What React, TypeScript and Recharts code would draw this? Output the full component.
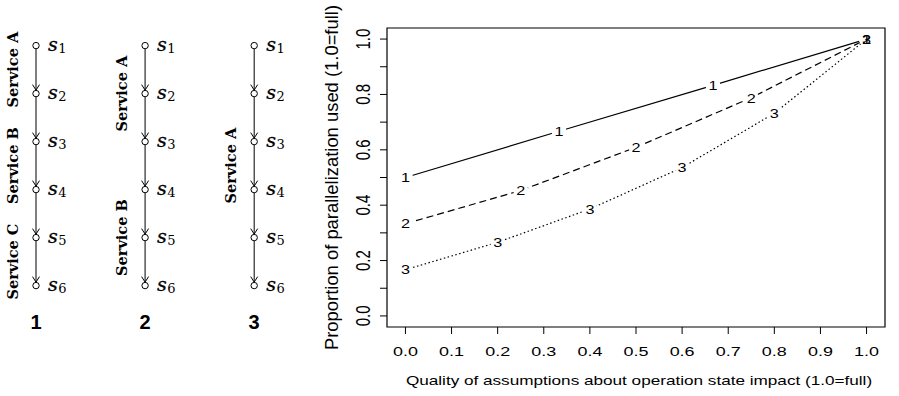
import React from "react"
import { LineChart, Line, XAxis, YAxis, ReferenceArea, ScatterChart, Scatter } from "recharts"

// left: service chains
const chains = [1, 2, 3]
const stateIds = [1, 2, 3, 4, 5, 6]
const services = [
  { chain: 1, name: "Service A", from: 1, to: 2 },
  { chain: 1, name: "Service B", from: 3, to: 4 },
  { chain: 1, name: "Service C", from: 5, to: 6 },
  { chain: 2, name: "Service A", from: 1, to: 3 },
  { chain: 2, name: "Service B", from: 4, to: 6 },
  { chain: 3, name: "Service A", from: 1, to: 6 },
]

// right: parallelization vs. assumption quality
const quality1 = [0, 0.333, 0.667, 1]
const parallel1 = [0.5, 0.667, 0.833, 1]
const quality2 = [0, 0.25, 0.5, 0.75, 1]
const parallel2 = [0.333, 0.453, 0.609, 0.788, 1]
const quality3 = [0, 0.2, 0.4, 0.6, 0.8, 1]
const parallel3 = [0.167, 0.266, 0.386, 0.536, 0.732, 1]
const xTicks = [0, 0.1, 0.2, 0.3, 0.4, 0.5, 0.6, 0.7, 0.8, 0.9, 1]
const yTicks = [0, 0.1, 0.2, 0.3, 0.4, 0.5, 0.6, 0.7, 0.8, 0.9, 1]
const yLabelled = [0, 0.2, 0.4, 0.6, 0.8, 1]

const SANS = "'Liberation Sans', Arial, sans-serif"
const SERIF = "'DejaVu Serif', serif"

function SText({ x, y, size, sx = 1, sy = 1, rotate = 0, children, ...rest }: any) {
  return (
    <text
      transform={`translate(${x},${y}) scale(${sx},${sy}) rotate(${rotate})`}
      textAnchor="middle"
      dy={size * 0.35}
      fontSize={size}
      fontFamily={SANS}
      fill="#000"
      {...rest}
    >
      {children}
    </text>
  )
}

function NodeShape(props: any) {
  const { cx, cy, payload } = props
  return (
    <g>
      {payload.s > 1 && (
        <polyline
          points={`${cx - 3.5},${cy - 9} ${cx},${cy - 3.5} ${cx + 3.5},${cy - 9}`}
          fill="none"
          stroke="#000"
          strokeWidth={1}
        />
      )}
      <circle cx={cx} cy={cy} r={3.2} fill="#fff" stroke="#000" strokeWidth={1} />
      <text x={cx + 12} y={cy + 5} fontFamily={SERIF} fill="#000" stroke="#000" strokeWidth={0.3}>
        <tspan fontSize={19} fontStyle="italic">s</tspan>
        <tspan fontSize={13} dy={2} dx={0.5} strokeWidth={0}>{payload.s}</tspan>
      </text>
    </g>
  )
}

function ServiceShape(props: any) {
  const { cx, cy, payload } = props
  return (
    <SText x={cx - 23} y={cy} size={14.5} rotate={-90} fontFamily={SERIF} fontWeight="bold">
      {payload.name}
    </SText>
  )
}

function ChainTick(props: any) {
  const { x, y, payload } = props
  return (
    <SText x={x} y={y + 21.7} size={20} fontWeight="bold">
      {payload.value}
    </SText>
  )
}

function Chains() {
  const serviceData = services.map((s) => ({ x: s.chain, y: (s.from + s.to) / 2, name: s.name }))
  return (
    <ScatterChart width={300} height={396} margin={{ top: 0, right: 0, bottom: 0, left: 0 }}>
      <XAxis
        type="number"
        dataKey="x"
        domain={[0.67, 3.42]}
        ticks={chains}
        allowDataOverflow
        height={96}
        tickSize={0}
        tickMargin={0}
        axisLine={false}
        tickLine={false}
        tick={<ChainTick />}
      />
      <YAxis type="number" dataKey="y" domain={[0.05, 6.3]} reversed hide allowDataOverflow />
      {chains.map((c) => (
        <Scatter
          key={c}
          data={stateIds.map((s) => ({ x: c, y: s, s }))}
          line={{ stroke: "#000", strokeWidth: 1 }}
          lineType="joint"
          shape={<NodeShape />}
          isAnimationActive={false}
        />
      ))}
      <Scatter data={serviceData} shape={<ServiceShape />} isAnimationActive={false} />
    </ScatterChart>
  )
}

function XTick(props: any) {
  const { x, y, payload } = props
  return (
    <SText x={x} y={y + 15} size={13.5} sx={1.33}>
      {payload.value.toFixed(1)}
    </SText>
  )
}

function YTick(props: any) {
  const { x, y, payload } = props
  if (!yLabelled.includes(payload.value)) return <g />
  return (
    <SText x={x - 15} y={y} size={15} sx={1.3} rotate={-90}>
      {payload.value.toFixed(1)}
    </SText>
  )
}

const makeSeries = (xs: number[], ys: number[]) => xs.map((x, i) => ({ x, y: ys[i] }))

function Curves() {
  const series = [
    { data: makeSeries(quality1, parallel1), dash: undefined, label: "1" },
    { data: makeSeries(quality2, parallel2), dash: "7 4", label: "2" },
    { data: makeSeries(quality3, parallel3), dash: "1.5 2.5", label: "3" },
  ]
  return (
    <LineChart width={599} height={396} margin={{ top: 28, right: 14, bottom: 0, left: 0 }}>
      <XAxis
        type="number"
        dataKey="x"
        domain={[-0.04, 1.04]}
        ticks={xTicks}
        allowDataOverflow
        height={69}
        tickSize={7}
        axisLine={false}
        tickLine={{ stroke: "#000" }}
        tick={<XTick />}
        label={{
          content: (p: any) => (
            <SText x={p.viewBox.x + p.viewBox.width / 2 + 3} y={p.viewBox.y + 53.5} size={13.5} sx={1.27}>
              Quality of assumptions about operation state impact (1.0=full)
            </SText>
          ),
        }}
      />
      <YAxis
        type="number"
        domain={[-0.04, 1.04]}
        ticks={yTicks}
        allowDataOverflow
        width={87}
        tickSize={7}
        axisLine={false}
        tickLine={{ stroke: "#000" }}
        tick={<YTick />}
        label={{
          content: (p: any) => (
            <SText x={32} y={p.viewBox.y + p.viewBox.height / 2} size={18.4} rotate={-90}>
              Proportion of parallelization used (1.0=full)
            </SText>
          ),
        }}
      />
      <ReferenceArea x1={-0.04} x2={1.04} y1={-0.04} y2={1.04} fill="none" stroke="#000" strokeWidth={1.2} ifOverflow="visible" />
      {series.map((s) => (
        <Line
          key={"l" + s.label}
          data={s.data}
          dataKey="y"
          stroke="#000"
          strokeWidth={1.2}
          strokeDasharray={s.dash}
          dot={(p: any) => <circle key={p.index} cx={p.cx} cy={p.cy} r={7.5} fill="#fff" />}
          activeDot={false}
          isAnimationActive={false}
        />
      ))}
      {series.map((s) => (
        <Line
          key={"t" + s.label}
          data={s.data}
          dataKey="y"
          stroke="none"
          dot={(p: any) => (
            <SText key={p.index} x={p.cx} y={p.cy} size={13.5} sx={1.2}>
              {s.label}
            </SText>
          )}
          activeDot={false}
          isAnimationActive={false}
        />
      ))}
    </LineChart>
  )
}

export default function App() {
  return (
    <div style={{ position: "fixed", left: 0, top: 0, width: 899, height: 396, background: "#fff" }}>
      <div style={{ position: "absolute", left: 0, top: 0 }}>
        <Chains />
      </div>
      <div style={{ position: "absolute", left: 300, top: 0 }}>
        <Curves />
      </div>
    </div>
  )
}
